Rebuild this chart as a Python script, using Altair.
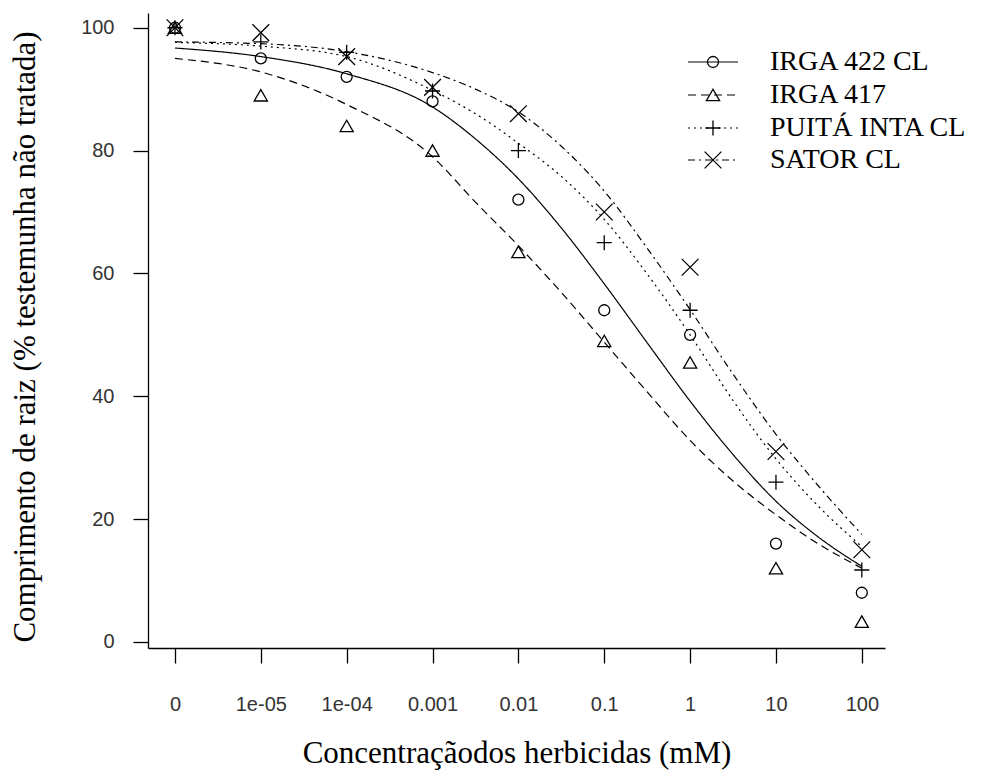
import altair as alt
import pandas as pd

# ---------------- data ----------------
series = ["IRGA 422 CL", "IRGA 417", "PUITÁ INTA CL", "SATOR CL"]
dose_labels = ["0", "1e-05", "1e-04", "0.001", "0.01", "0.1", "1", "10", "100"]
dose_pos = [0, 1, 2, 3, 4, 5, 6, 7, 8]

obs_irga422 = [100, 95.0, 92.0, 88.0, 72.0, 54.0, 50.0, 16.0, 8.0]
obs_irga417 = [100, 89.0, 84.0, 80.0, 63.5, 49.0, 45.5, 12.0, 3.3]
obs_puita = [100, 97.7, 96.0, 89.7, 80.0, 65.0, 54.0, 26.0, 11.7]
obs_sator = [100, 99.2, 95.3, 90.3, 86.0, 70.0, 61.0, 31.0, 15.0]

curve_pos = [0, 1, 2, 3, 3.5, 4, 4.5, 5, 5.5, 6, 6.5, 7, 7.5, 8]
fit_irga422 = [96.7, 95.3, 92.5, 87.1, 81.9, 75.4, 67.4, 58.3, 48.7, 39.2, 30.5, 22.9, 17.0, 12.3]
fit_irga417 = [95.0, 92.8, 87.5, 79.0, 71.6, 64.5, 56.9, 48.8, 40.7, 32.8, 26.2, 20.7, 15.9, 12.0]
fit_puita = [97.6, 97.0, 95.3, 89.8, 86.0, 81.2, 75.8, 68.8, 59.9, 50.0, 39.3, 29.8, 22.0, 15.5]
fit_sator = [97.7, 97.4, 96.1, 92.7, 90.0, 86.3, 80.7, 73.4, 64.1, 54.1, 43.6, 33.8, 25.3, 17.5]

y_ticks = [0, 20, 40, 60, 80, 100]

obs = {s: v for s, v in zip(series, [obs_irga422, obs_irga417, obs_puita, obs_sator])}
fit = {s: v for s, v in zip(series, [fit_irga422, fit_irga417, fit_puita, fit_sator])}

pts = pd.DataFrame(
    [{"serie": s, "pos": p, "val": v} for s in series for p, v in zip(dose_pos, obs[s])]
)
crv = pd.DataFrame(
    [{"serie": s, "pos": p, "val": v, "k": i} for s in series for i, (p, v) in enumerate(zip(curve_pos, fit[s]))]
)

# ---------------- layout / style ----------------
W, H = 737, 635
PAD_L, PAD_T = 140, 5
legend_row_page_y = [62, 95, 128, 160]
leg = pd.DataFrame({"serie": series, "ly": [y - 8 - PAD_T for y in legend_row_page_y]})

shape_scale = alt.Scale(
    domain=series,
    range=["circle", "triangle-up", "M-1,0L1,0M0,-1L0,1", "M-1,-1L1,1M-1,1L1,-1"],
)
size_scale = alt.Scale(domain=series, range=[121, 280, 324, 196])
dash_scale = alt.Scale(domain=series, range=[[1, 0], [8, 5], [2, 4], [7, 4, 2, 4]])

x_scale = alt.Scale(domain=[-0.314, 8.27], nice=False, zero=False)
y_scale = alt.Scale(domain=[-1.0, 102.4], nice=False, zero=False)

label_expr = "[" + ",".join("'" + l + "'" for l in dose_labels) + "][datum.value]"

x_enc = alt.X(
    "pos:Q",
    scale=x_scale,
    axis=alt.Axis(
        values=dose_pos,
        labelExpr=label_expr,
        title="Concentraçãodos herbicidas (mM)",
        titleX=W / 2,
        titleY=114,
        titleBaseline="alphabetic",
        titleAlign="center",
        labelPadding=31,
    ),
)
y_enc = alt.Y(
    "val:Q",
    scale=y_scale,
    axis=alt.Axis(
        values=y_ticks,
        title="Comprimento de raiz (% testemunha não tratada)",
        titleX=-114,
        titleY=H / 2 + 6,
        titleAngle=-90,
        titleAlign="center",
        titleBaseline="alphabetic",
        labelPadding=19,
    ),
)

lines = alt.Chart(crv).mark_line(color="black", strokeWidth=1.2, interpolate="monotone").encode(
    x=x_enc,
    y=y_enc,
    detail="serie:N",
    order="k:Q",
    strokeDash=alt.StrokeDash("serie:N", scale=dash_scale, legend=None),
)

points = alt.Chart(pts).mark_point(color="black", filled=False, strokeWidth=1.3, opacity=1).encode(
    x=alt.X("pos:Q", scale=x_scale),
    y=alt.Y("val:Q", scale=y_scale),
    shape=alt.Shape("serie:N", scale=shape_scale, legend=None),
    size=alt.Size("serie:N", scale=size_scale, legend=None),
)

leg_y = alt.Y("ly:Q", scale=None, axis=None)

leg_lines = alt.Chart(leg).mark_rule(color="black", strokeWidth=1.2).encode(
    x=alt.value(540),
    x2=alt.value(590),
    y=leg_y,
    strokeDash=alt.StrokeDash("serie:N", scale=dash_scale, legend=None),
)
leg_pts = alt.Chart(leg).mark_point(color="black", filled=False, strokeWidth=1.3, opacity=1).encode(
    x=alt.value(565),
    y=leg_y,
    shape=alt.Shape("serie:N", scale=shape_scale, legend=None),
    size=alt.Size("serie:N", scale=size_scale, legend=None),
)
leg_txt = alt.Chart(leg).mark_text(
    align="left", baseline="middle", font="Liberation Serif", fontSize=28, color="black"
).encode(
    x=alt.value(622),
    y=leg_y,
    text="serie:N",
)

chart = (
    alt.layer(lines, points, leg_lines, leg_pts, leg_txt)
    .properties(
        width=W,
        height=H,
        autosize=alt.AutoSizeParams(type="none"),
        padding={"left": PAD_L, "top": PAD_T, "right": 89, "bottom": 122},
    )
    .configure_view(stroke=None)
    .configure_axis(
        grid=False,
        domainColor="black",
        domainWidth=1.3,
        tickColor="black",
        tickWidth=1.3,
        tickSize=15,
        labelFont="Liberation Sans",
        labelFontSize=20,
        labelColor="#333333",
        titleFont="Liberation Serif",
        titleFontSize=31,
        titleFontWeight="normal",
        titleColor="black",
    )
)

chart.save("out.html", embed_options={"renderer": "svg", "actions": False})
